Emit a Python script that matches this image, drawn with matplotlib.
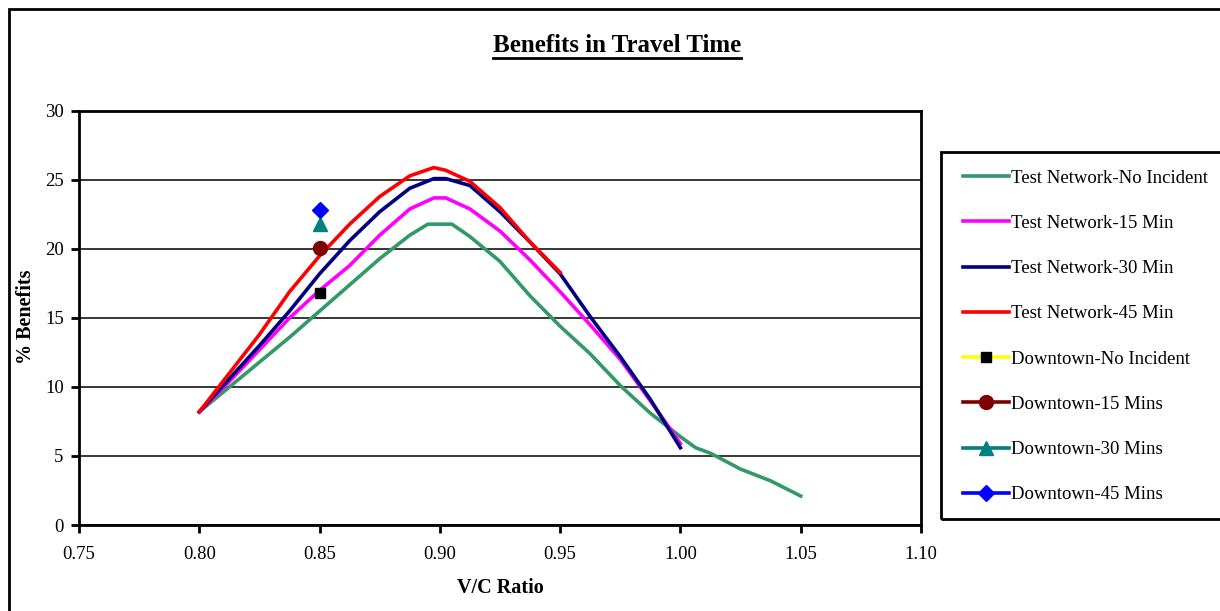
import matplotlib
matplotlib.use("Agg")
import matplotlib.pyplot as plt
from matplotlib.patches import Rectangle
from matplotlib.lines import Line2D

plt.rcParams['font.family'] = ['Liberation Serif', 'DejaVu Serif']

# Test network curves (V/C ratio vs % benefits)
vc_none = [0.80, 0.8125, 0.825, 0.8375, 0.85, 0.8625, 0.875, 0.8875, 0.895, 0.905,
           0.9125, 0.925, 0.9375, 0.95, 0.9625, 0.975, 0.9875, 1.00, 1.0063, 1.0125,
           1.025, 1.0375, 1.05]
ben_none = [8.2, 10.0, 11.8, 13.6, 15.5, 17.4, 19.3, 21.0, 21.8, 21.8,
            20.9, 19.1, 16.6, 14.4, 12.4, 10.1, 8.1, 6.4, 5.6, 5.2,
            4.05, 3.2, 2.1]

vc_15 = [0.80, 0.8125, 0.825, 0.8375, 0.85, 0.8625, 0.875, 0.8875, 0.8975, 0.9025,
         0.9125, 0.925, 0.9375, 0.95, 0.9625, 0.975, 0.9875, 1.00]
ben_15 = [8.2, 10.4, 12.7, 15.0, 17.0, 18.8, 21.0, 22.9, 23.7, 23.7,
          22.9, 21.3, 19.2, 16.9, 14.5, 12.0, 9.0, 5.9]

vc_30 = [0.80, 0.8125, 0.825, 0.8375, 0.85, 0.8625, 0.875, 0.8875, 0.8975, 0.9025,
         0.9125, 0.925, 0.9375, 0.95, 0.9625, 0.975, 0.9875, 1.00]
ben_30 = [8.2, 10.6, 13.0, 15.5, 18.2, 20.6, 22.7, 24.4, 25.1, 25.1,
          24.6, 22.7, 20.5, 18.2, 15.1, 12.2, 9.1, 5.6]

vc_45 = [0.80, 0.8125, 0.825, 0.8375, 0.85, 0.8625, 0.875, 0.8875, 0.8975, 0.9025,
         0.9125, 0.925, 0.9375, 0.95]
ben_45 = [8.2, 11.0, 13.8, 16.9, 19.5, 21.8, 23.8, 25.3, 25.9, 25.7,
          24.9, 23.0, 20.5, 18.3]

# Downtown single observations
dt_vc = [0.85]
dt_none = [16.8]
dt_15 = [20.1]
dt_30 = [21.8]
dt_45 = [22.8]

fig = plt.figure(figsize=(12.2, 6.11), dpi=100)
W, H = 1220, 611

# chart area border (runs off the right/bottom edge)
fig.patches.append(Rectangle((9 / W, -0.05), 1.2, 1 - 9 / H + 0.05, transform=fig.transFigure,
                             fill=False, edgecolor='black', linewidth=2))

ax = fig.add_axes([79 / W, (H - 525) / H, (921 - 79) / W, (525 - 111) / H])

ax.plot(vc_none, ben_none, color='#339966', lw=2.6, label='Test Network-No Incident', solid_joinstyle='round')
ax.plot(vc_15, ben_15, color='#FF00FF', lw=2.6, label='Test Network-15 Min', solid_joinstyle='round')
ax.plot(vc_30, ben_30, color='#000080', lw=2.6, label='Test Network-30 Min', solid_joinstyle='round')
ax.plot(vc_45, ben_45, color='#FF0000', lw=2.6, label='Test Network-45 Min', solid_joinstyle='round')
ax.plot(dt_vc, dt_none, color='#FFFF00', lw=2.6, marker='s', ms=7.5, mfc='black', mec='black',
        label='Downtown-No Incident')
ax.plot(dt_vc, dt_15, color='#800000', lw=2.6, marker='o', ms=10, mec='#800000',
        label='Downtown-15 Mins')
ax.plot(dt_vc, dt_30, color='#008080', lw=2.6, marker='^', ms=10, mec='#008080',
        label='Downtown-30 Mins')
ax.plot(dt_vc, dt_45, color='#0000FF', lw=2.6, marker='D', ms=8.5, mec='#0000FF',
        label='Downtown-45 Mins')

ax.set_xlim(0.75, 1.10)
ax.set_ylim(0, 30)
ax.set_xticks([0.75, 0.80, 0.85, 0.90, 0.95, 1.00, 1.05, 1.10])
ax.set_xticklabels(['0.75', '0.80', '0.85', '0.90', '0.95', '1.00', '1.05', '1.10'])
ax.set_yticks([0, 5, 10, 15, 20, 25, 30])
ax.yaxis.grid(True, color='black', linewidth=1.1)
ax.set_axisbelow(True)
for s in ax.spines.values():
    s.set_linewidth(2)
ax.tick_params(axis='both', direction='out', length=6, width=2, labelsize=13.5, colors='black')
ax.tick_params(axis='x', pad=9)
ax.tick_params(axis='y', pad=5)

# axis titles
fig.text(500 / W, (H - 588) / H, 'V/C Ratio', ha='center', va='center',
         fontsize=14.5, fontweight='bold')
fig.text(26 / W, (H - 317) / H, '% Benefits', ha='center', va='center', rotation=90,
         fontsize=14.5, fontweight='bold')

# legend box (also runs off the right edge)
fig.patches.append(Rectangle((941 / W, (H - 519) / H), 0.3, (519 - 152) / H,
                             transform=fig.transFigure, fill=False, edgecolor='black', linewidth=2))
handles, labels = ax.get_legend_handles_labels()
fig.legend(handles, labels, loc='upper left', bbox_to_anchor=(955 / W, (H - 162) / H),
           frameon=False, fontsize=13.5, handlelength=2.5, handletextpad=0.1,
           labelspacing=1.5, numpoints=1, borderaxespad=0)

# underlined title
title = fig.text(617 / W, (H - 45) / H, 'Benefits in Travel Time', ha='center', va='center',
                 fontsize=18, fontweight='bold')
fig.canvas.draw()
bb = title.get_window_extent()
y_ul = (H - 58) / H
fig.lines.append(Line2D([bb.x0 / W, bb.x1 / W], [y_ul, y_ul], transform=fig.transFigure,
                        color='black', linewidth=2))

fig.savefig('out.png', dpi=100)
